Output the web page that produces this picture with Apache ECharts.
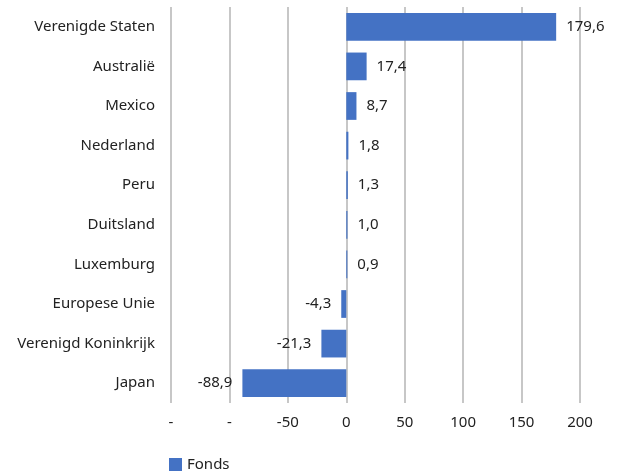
<!DOCTYPE html>
<html><head><meta charset="utf-8">
<script src="https://cdn.jsdelivr.net/npm/echarts@6/dist/echarts.min.js"></script>
<style>html,body{margin:0;padding:0;background:#fff}#c{width:624px;height:472px}</style>
</head><body><div id="c"></div>
<script>
const categories = ["Verenigde Staten","Australië","Mexico","Nederland","Peru","Duitsland","Luxemburg","Europese Unie","Verenigd Koninkrijk","Japan"];
const fonds = [179.6,17.4,8.7,1.8,1.3,1.0,0.9,-4.3,-21.3,-88.9];
const xTickLabels = {"-150":"-","-100":"-","-50":"-50","0":"0","50":"50","100":"100","150":"150","200":"200"};
const seriesName = "Fonds";

const font = "Noto Sans";
const chart = echarts.init(document.getElementById('c'));
chart.setOption({
  animation:false,
  grid:{left:171,right:44,top:7,bottom:69,containLabel:false},
  legend:{data:[seriesName],left:164,top:452,itemWidth:13,itemHeight:13,icon:'rect',itemGap:8,
    textStyle:{fontFamily:font,fontSize:15,color:'#222'}},
  xAxis:{type:'value',min:-150,max:200,interval:50,
    axisLine:{show:false},axisTick:{show:false},
    splitLine:{show:true,lineStyle:{color:'#b4b4b4',width:1.5}},
    axisLabel:{margin:12,fontFamily:font,fontSize:15,color:'#222',formatter:v=>xTickLabels[String(v)] ?? String(v)}},
  yAxis:{type:'category',data:categories,inverse:true,
    axisLine:{show:false,onZero:false},axisTick:{show:false},splitLine:{show:false},
    axisLabel:{margin:16,fontFamily:font,fontSize:15,color:'#222'}},
  series:[{name:seriesName,type:'bar',barCategoryGap:'30%',
    itemStyle:{color:'#4472C4'},
    data:fonds.map(v=>({value:v,label:{position:v>=0?'right':'left'}})),
    label:{show:true,distance:10,fontFamily:font,fontSize:15,color:'#222',
      formatter:p=>p.value.toFixed(1).replace('.',',')}}]
});
</script></body></html>
